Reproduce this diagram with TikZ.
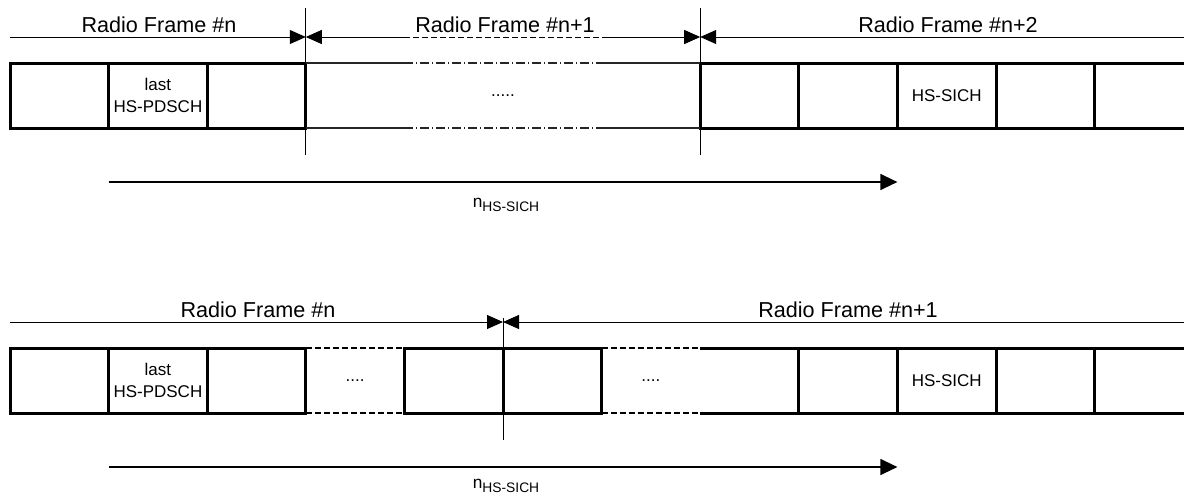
\documentclass[tikz,border=0pt]{standalone}
\usepackage{fontspec}
\setmainfont{Liberation Sans}
\usetikzlibrary{positioning,arrows.meta,calc}
\colorlet{ink}{black}
\tikzset{
  x=0.5pt, y=-0.5pt,
  % --- nodes
  cell/.style  = {draw=ink, line width=1.5pt, minimum width=49.3pt, minimum height=32.5pt,
                  inner sep=0pt, outer sep=0pt, align=center,
                  font=\fontsize{8.5}{11}\selectfont},
  blank/.style = {cell, draw=none},
  gap/.style   = {blank, minimum width=197.2pt},
  rf/.style    = {font=\fontsize{10.8}{13}\selectfont, anchor=base, inner sep=0pt},
  nlbl/.style  = {font=\fontsize{8.65}{10}\selectfont, anchor=base, inner sep=0pt},
  % --- edges
  dim/.style   = {line width=0.5pt, draw=ink},
  dimr/.style  = {dim, -{Triangle[length=8pt,width=7pt]}},
  diml/.style  = {dim, {Triangle[length=8pt,width=7pt]}-},
  nline/.style = {line width=0.65pt, draw=ink, -{Triangle[length=8.5pt,width=8pt]}},
  tick/.style  = {line width=0.5pt, draw=ink},
  rule/.style  = {line width=0.6pt, draw=ink!85},
  dashdot/.style = {dash pattern=on 4.5pt off 1.5pt on 0.5pt off 1.5pt},
  gapdash/.style = {line width=0.8pt, draw=ink, dash pattern=on 3pt off 1.5pt},
  solid top/.style = {line width=1.5pt, draw=ink},
}
\begin{document}
\begin{tikzpicture}
  \useasboundingbox (0,0) rectangle (1184,494);

  % --- upper case: three radio frames
  \node[cell] (a1) at (59.3,95.5) {};
  \node[cell, right=0pt of a1] (a2) {last\\HS-PDSCH};
  \node[cell, right=0pt of a2] (a3) {};
  \node[gap,  right=0pt of a3] (ag) {.....};
  \node[cell, right=0pt of ag] (a4) {};
  \node[cell, right=0pt of a4] (a5) {};
  \node[cell, right=0pt of a5] (a6) {HS-SICH};
  \node[cell, right=0pt of a6] (a7) {};
  \node[cell, right=0pt of a7] (a8) {};

  \foreach \a/\b in {north west/north east,south west/south east}{
    \draw[rule] (ag.\a) -- ($(ag.\a)!0.25!(ag.\b)$);
    \draw[rule, dashdot] ($(ag.\a)!0.25!(ag.\b)$) -- ($(ag.\a)!0.75!(ag.\b)$);
    \draw[rule] ($(ag.\a)!0.75!(ag.\b)$) -- (ag.\b);
  }

  \coordinate (f0) at (10,37);
  \coordinate (f1) at (a3.north east |- f0);
  \coordinate (f2) at (a4.north west |- f0);
  \coordinate (f3) at (1184,37);
  \draw[dimr] (f0) -- (f1);
  \draw[diml] (f1) -- ($(f1)!0.25!(f2)$);
  \draw[dim, dash pattern=on 3pt off 1.5pt] ($(f1)!0.25!(f2)$) -- ($(f1)!0.75!(f2)$);
  \draw[dimr] ($(f1)!0.75!(f2)$) -- (f2);
  \draw[diml] (f2) -- (f3);

  \draw[tick] (a3.north east |- 0,8) -- (a3.north east |- 0,155);
  \draw[tick] (a4.north west |- 0,8) -- (a4.north west |- 0,155);

  \node[rf] (r1) at (159,32) {Radio Frame \#n};
  \node[rf] (r2) at (505,32) {Radio Frame \#n+1};
  \node[rf] (r3) at (948,32) {Radio Frame \#n+2};

  \coordinate (s0) at (a2.south west |- 0,182);
  \coordinate (s1) at (a6.south west |- 0,182);
  \draw[nline] (s0) -- (s1);
  \node[nlbl] (n1) at (506,207) {n\raisebox{-2.2pt}{\fontsize{6.9}{8}\selectfont HS-SICH}};

  % --- lower case: two radio frames
  \node[cell] (b1) at (59.3,380.5) {};
  \node[cell,  right=0pt of b1]  (b2)  {last\\HS-PDSCH};
  \node[cell,  right=0pt of b2]  (b3)  {};
  \node[blank, right=0pt of b3]  (b4)  {....};
  \node[cell,  right=0pt of b4]  (b5)  {};
  \node[cell,  right=0pt of b5]  (b6)  {};
  \node[blank, right=0pt of b6]  (b7)  {....};
  \node[blank, right=0pt of b7]  (b8)  {};
  \node[cell,  right=0pt of b8]  (b9)  {};
  \node[cell,  right=0pt of b9]  (b10) {HS-SICH};
  \node[cell,  right=0pt of b10] (b11) {};
  \node[cell,  right=0pt of b11] (b12) {};

  \foreach \n in {b4,b7}
    \draw[gapdash] (\n.north west) -- (\n.north east) (\n.south west) -- (\n.south east);
  \draw[solid top] (b8.north west) -- (b8.north east) (b8.south west) -- (b8.south east);

  \coordinate (g0) at (10,322);
  \coordinate (g1) at (b6.north west |- g0);
  \coordinate (g2) at (1184,322);
  \draw[dimr] (g0) -- (g1);
  \draw[diml] (g1) -- (g2);
  \draw[tick] (b6.north west |- 0,318) -- (b6.north west |- 0,440);

  \node[rf] (r4) at (258,317) {Radio Frame \#n};
  \node[rf] (r5) at (848,317) {Radio Frame \#n+1};

  \coordinate (s2) at (b2.south west |- 0,467);
  \coordinate (s3) at (b10.south west |- 0,467);
  \draw[nline] (s2) -- (s3);
  \node[nlbl] (n2) at (506,488) {n\raisebox{-2.2pt}{\fontsize{6.9}{8}\selectfont HS-SICH}};
\end{tikzpicture}
\end{document}
